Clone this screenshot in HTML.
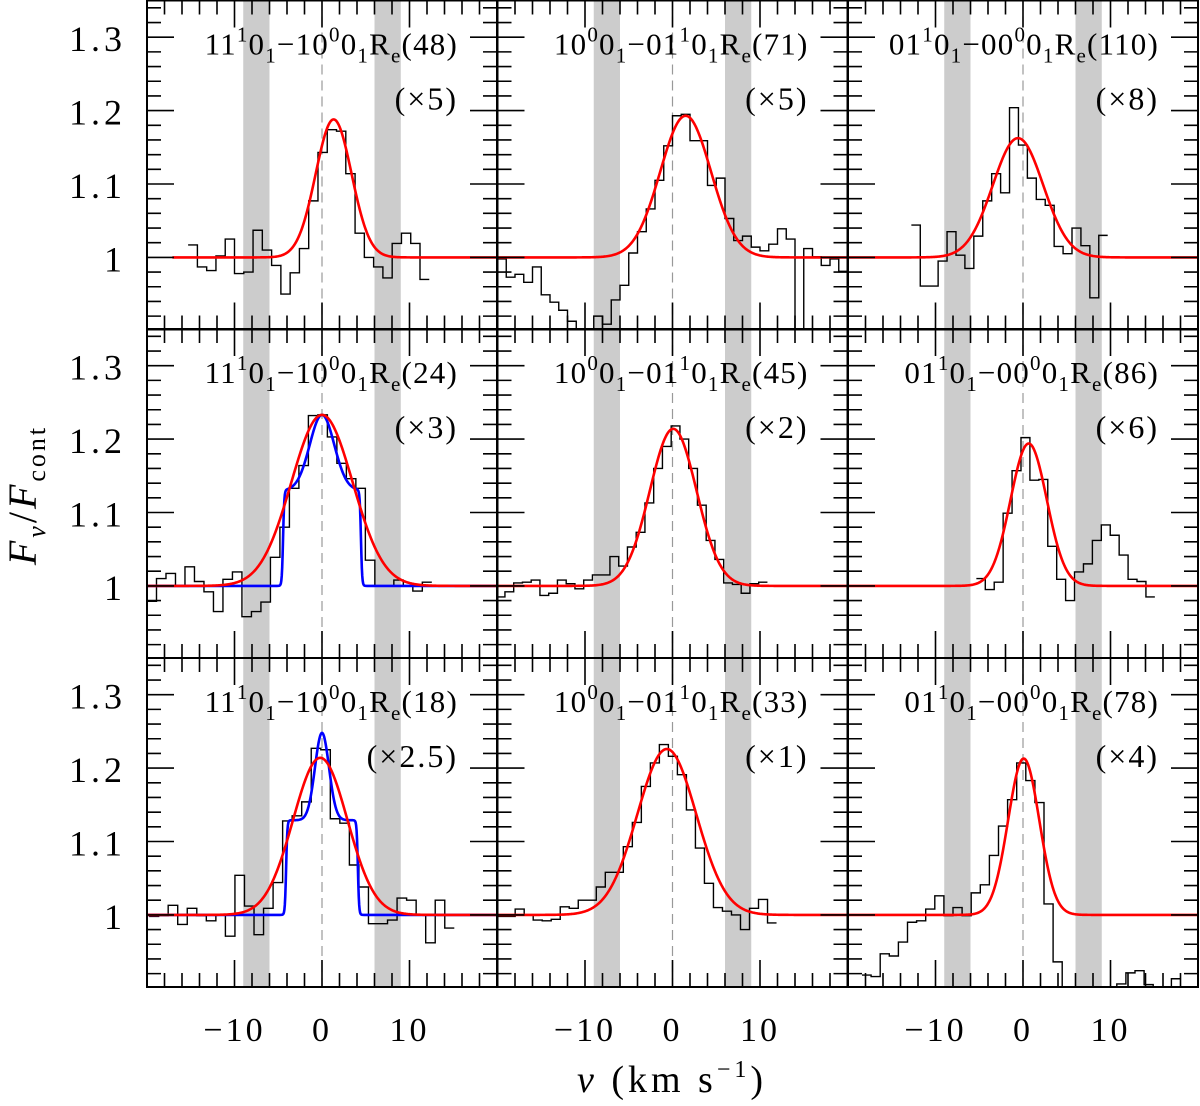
<!DOCTYPE html>
<html><head><meta charset="utf-8"><style>
html,body{margin:0;padding:0;background:#fff;}
svg{display:block;font-family:"Liberation Serif",serif;}
</style></head><body>
<svg id="chart" width="1200" height="1106" viewBox="0 0 1200 1106" xmlns="http://www.w3.org/2000/svg">
<g id="panels"></g>
<text x="672" y="1092" font-size="38" letter-spacing="4" text-anchor="middle"><tspan font-style="italic">v</tspan> (km s<tspan dy="-15" font-size="24">−1</tspan><tspan dy="15">)</tspan></text>
<text transform="translate(36,495) rotate(-90)" font-size="40" letter-spacing="3" text-anchor="middle"><tspan font-style="italic">F</tspan><tspan dy="9" font-size="26" font-style="italic">ν</tspan><tspan dy="-9">/</tspan><tspan font-style="italic">F</tspan><tspan dy="9" font-size="26">cont</tspan></text>
</svg>
<script>
// ---- data ----
const rowLabels = [["11","1","0","1","−10","0","0","1"],["10","0","0","1","−01","1","0","1"],["01","1","0","1","−00","0","0","1"]];
const lineJ = [["48","71","110"],["24","45","86"],["18","33","78"]];
const factors = [["×5","×5","×8"],["×3","×2","×6"],["×2.5","×1","×4"]];
const histStarts = [[-15.3,-20,-12.76],[-20,-20.15,-5.33],[-19.76,-20.04,-18.4]];
const histWidths = [[1.06,1.0,1.02],[1.085,1.0,1.02],[1.09,1.03,1.04]];
const h11 = [1.017,0.987,0.982,1.002,1.025,0.978,0.98,1.037,1.01,0.989,0.95,0.979,1.012,1.077,1.143,1.174,1.172,1.114,1.033,1.0,0.987,0.972,1.019,1.033,1.019,0.97];
const h12 = [0.998,0.973,0.977,0.966,0.987,0.949,0.939,0.928,0.913,0.895,0.895,0.92,0.909,0.942,0.962,1.006,1.035,1.066,1.105,1.152,1.193,1.195,1.159,1.159,1.098,1.108,1.053,1.023,1.029,1.014,1.009,1.018,1.039,1.025,0.80,1.012,1.001,0.989,0.998,0.981];
const h13 = [1.044,0.961,0.961,0.995,1.035,1.003,0.985,1.029,1.077,1.114,1.088,1.204,1.153,1.108,1.079,1.071,1.015,1.005,1.040,1.016,0.945,1.03];
const h21 = [0.979,1.01,1.017,1.0,1.026,1.006,0.992,0.965,1.009,1.019,0.958,0.965,0.978,1.039,1.08,1.133,1.164,1.232,1.233,1.203,1.167,1.146,1.133,1.035,1.0,1.0,1.008,1.0,0.993,1.005];
const h22 = [0.985,0.992,1.004,1.005,1.008,0.987,0.99,1.008,1.003,0.996,1.008,1.015,1.015,1.04,1.027,1.053,1.073,1.113,1.16,1.19,1.218,1.2,1.16,1.11,1.062,1.036,1.004,1.002,0.99,1.003,1.005];
const h23 = [1.01,0.995,1.005,1.099,1.157,1.202,1.144,1.145,1.054,1.009,0.98,1.019,1.03,1.062,1.083,1.069,1.042,1.009,1.006,0.985];
const h31 = [0.998,0.999,1.013,0.987,1.009,0.999,0.992,1.0,0.971,1.054,1.012,0.973,1.009,1.044,1.128,1.135,1.154,1.227,1.225,1.131,1.125,1.068,1.038,0.988,0.988,0.993,1.023,1.02,1.0,0.962,1.02,0.982];
const h32 = [0.998,0.998,1.008,1.0,0.993,0.992,0.994,1.011,1.009,1.02,1.02,1.038,1.058,1.058,1.093,1.126,1.175,1.207,1.232,1.216,1.191,1.143,1.091,1.043,1.01,1.005,1.0,0.98,1.009,1.021,0.989];
const h33 = [0.918,0.916,0.947,0.944,0.963,0.99,0.992,1.008,1.026,0.999,1.01,0.999,1.03,1.041,1.081,1.121,1.157,1.207,1.183,1.153,1.015,0.936,0.88,0.88,0.88,0.88,0.88,0.88,0.906,0.921,0.924,0.905,0.88,0.88,0.913];
const histVals = [[h11,h12,h13],[h21,h22,h23],[h31,h32,h33]];
const gaussCenters = [[1.33,1.5,-0.57],[0.0,0.08,0.65],[-0.2,-0.65,0.08]];
const gaussAmps = [[0.188,0.193,0.1625],[0.233,0.214,0.194],[0.214,0.226,0.213]];
const gaussSigmas = [[2.05,2.9,2.88],[3.5,2.67,2.07],[3.1,3.37,1.78]];
const redStarts = [[-17.1,-20,-20],[-20,-20,-20],[-20,-20,-20]];
const blueRows = [1,2];
const bluePlateau = [0.13,0.129];
const bluePeak = [0.233,0.248];
const blueSigma = [1.4,0.8];
const blueEdge = [4.45,4.1];
const xTickLabels = [-10,0,10];
const yTickLabels = [1,1.1,1.2,1.3];
const bands = [[-9.0,-6.0],[6.0,9.0]];

// ---- layout ----
const NS="http://www.w3.org/2000/svg";
const colLeft=[147,497.5,848], colW=350, rowTop=[0.5,329,658], rowH=329;
const X=(c,v)=>colLeft[c]+(v+20)*colW/40;
const Y=(r,val)=>rowTop[r]+(1.35-val)*734;
const root=document.getElementById('panels');
function mk(tag,attrs,parent){const e=document.createElementNS(NS,tag);for(const k in attrs)e.setAttribute(k,attrs[k]);(parent||root).appendChild(e);return e;}

const defs=mk('defs',{});
for(let r=0;r<3;r++)for(let c=0;c<3;c++){
  const cp=mk('clipPath',{id:`clip${r}${c}`},defs);
  mk('rect',{x:colLeft[c],y:rowTop[r],width:colW,height:rowH},cp);
}

for(let r=0;r<3;r++)for(let c=0;c<3;c++){
  const g=mk('g',{'clip-path':`url(#clip${r}${c})`});
  
  
  bands.forEach((b,i)=>{
    const rc=mk('rect',{x:X(c,b[0]),y:rowTop[r],width:X(c,b[1])-X(c,b[0]),height:rowH,fill:'#cccccc'},g);
    
    
  });
  const dl=mk('line',{x1:X(c,0),x2:X(c,0),y1:rowTop[r],y2:rowTop[r]+rowH,stroke:'#999999','stroke-width':1.2,'stroke-dasharray':'10,6'},g);
  
  
  const vals=histVals[r][c], s0=histStarts[r][c], w=histWidths[r][c];
  let d=`M${X(c,s0)},${Y(r,vals[0])}`;
  vals.forEach((v,i)=>{ if(i>0) d+=`V${Y(r,v)}`; d+=`H${X(c,s0+(i+1)*w)}`; });
  const hp=mk('path',{d,fill:'none',stroke:'#000','stroke-width':1.4},g);
  
  
  const bi=blueRows.indexOf(r);
  if(c===0&&bi>=0){
    let bd='';
    for(let v=-20;v<=20.001;v+=0.05){
      const core=bluePlateau[bi]+(bluePeak[bi]-bluePlateau[bi])*Math.exp(-v*v/(2*blueSigma[bi]**2));
      const st=1/(1+Math.exp((Math.abs(v)-blueEdge[bi])/0.07));
      bd+=(bd?'L':'M')+X(c,v).toFixed(2)+','+Y(r,1+core*st).toFixed(2);
    }
    const bp=mk('path',{d:bd,fill:'none',stroke:'#0000ff','stroke-width':2.6},g);
    
    
  }
  let rd='';
  for(let v=redStarts[r][c];v<=20.001;v+=0.1){
    const val=1+gaussAmps[r][c]*Math.exp(-((v-gaussCenters[r][c])**2)/(2*gaussSigmas[r][c]**2));
    rd+=(rd?'L':'M')+X(c,v).toFixed(2)+','+Y(r,val).toFixed(2);
  }
  const rp=mk('path',{d:rd,fill:'none',stroke:'#ff0000','stroke-width':2.6},g);
  
  
}

for(let r=0;r<3;r++)for(let c=0;c<3;c++){
  const x0=colLeft[c],x1=x0+colW,y0=rowTop[r],y1=y0+rowH;
  const fr=mk('rect',{x:x0,y:y0,width:colW,height:rowH,fill:'none',stroke:'#000','stroke-width':2});
  
  
  let td='';
  for(let v=-18;v<=18;v+=2){const L=(v%10===0)?27:14;const xx=X(c,v);td+=`M${xx},${y1}v${-L}M${xx},${y0}v${L}`;}
  for(let k=46;k<=67;k++){const val=k*0.02;const L=(k%5===0)?27:14;const yy=Y(r,val);if(yy<=y0+1||yy>=y1-1)continue;td+=`M${x0},${yy}h${L}M${x1},${yy}h${-L}`;}
  const tp=mk('path',{d:td,stroke:'#000','stroke-width':1.6,fill:'none'});
  
  
  const p=rowLabels[c];
  const t=mk('text',{x:x0+311,y:y0+54,'font-size':31,'letter-spacing':1.2,'text-anchor':'end'});
  
  
  t.innerHTML=`${p[0]}<tspan dy="-13" font-size="21">${p[1]}</tspan><tspan dy="13">${p[2]}</tspan><tspan dy="8" font-size="21">${p[3]}</tspan><tspan dy="-8">${p[4]}</tspan><tspan dy="-13" font-size="21">${p[5]}</tspan><tspan dy="13">${p[6]}</tspan><tspan dy="8" font-size="21">${p[7]}</tspan><tspan dy="-8">R</tspan><tspan dy="8" font-size="21">e</tspan><tspan dy="-8">(${lineJ[r][c]})</tspan>`;
  const f=mk('text',{x:x0+311,y:y0+109,'font-size':32,'letter-spacing':2,'text-anchor':'end'});
  
  
  f.textContent=`(${factors[r][c]})`;
}
for(let c=0;c<3;c++)xTickLabels.forEach(v=>{
  const t=mk('text',{x:X(c,v),y:1041,'font-size':34,'letter-spacing':3,'text-anchor':'middle'});
  
  
  t.textContent=v<0?'−'+Math.abs(v):String(v);
});
for(let r=0;r<3;r++)yTickLabels.forEach(v=>{
  const t=mk('text',{x:126,y:Y(r,v)+14,'font-size':36,'letter-spacing':4,'text-anchor':'end'});
  
  
  t.textContent=String(v);
});
</script>
</body></html>
